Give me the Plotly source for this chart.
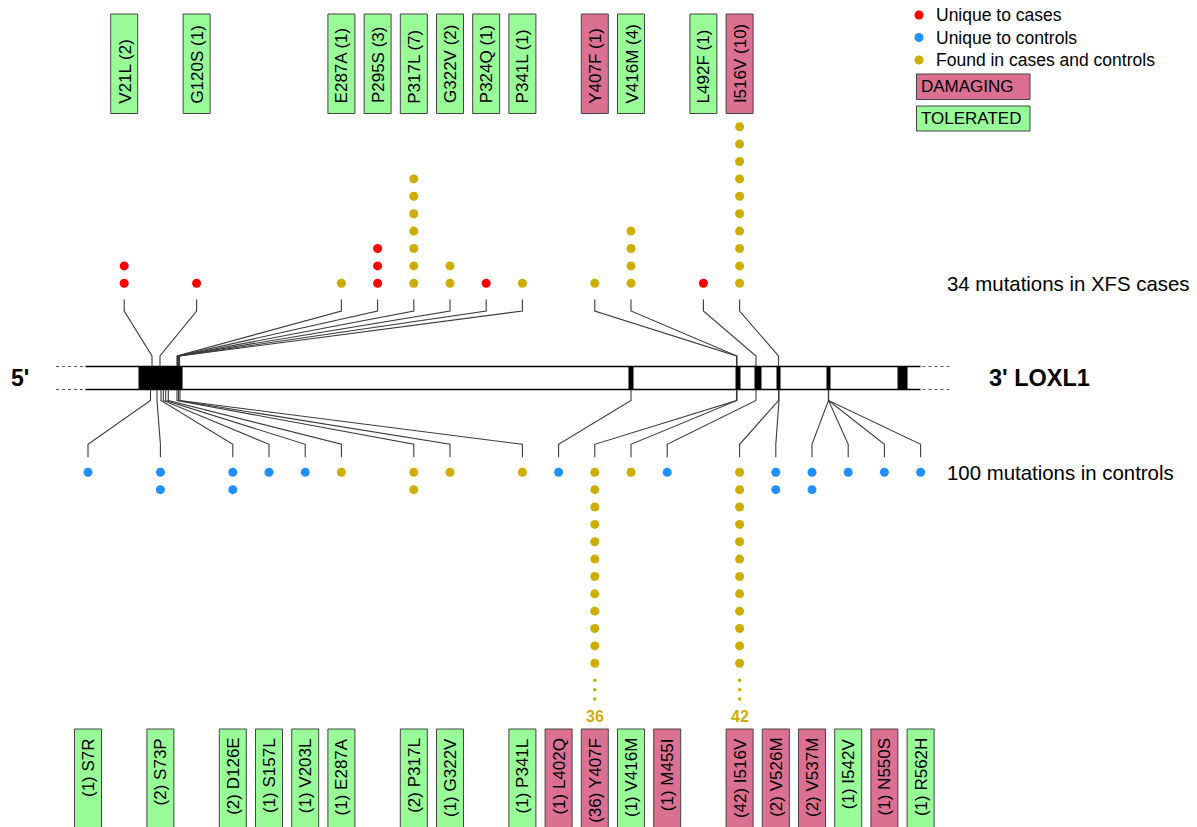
import plotly.graph_objects as go

# ---------------- data ----------------
case_labels = ["V21L", "G120S", "E287A", "P295S", "P317L", "G322V", "P324Q",
               "P341L", "Y407F", "V416M", "L492F", "I516V"]
case_counts = [2, 1, 1, 3, 7, 2, 1, 1, 1, 4, 1, 10]
case_slots = [1, 3, 7, 8, 9, 10, 11, 12, 14, 15, 17, 18]
case_types = ["case", "case", "both", "case", "both", "both", "case",
              "both", "both", "both", "case", "both"]
case_damaging = [False, False, False, False, False, False, False,
                 False, True, False, False, True]
case_gene_pos = [152, 160, 177, 177.5, 178, 178.5, 179, 179.5, 736.5, 737, 756, 778.5]

control_labels = ["S7R", "S73P", "D126E", "S157L", "V203L", "E287A", "P317L",
                  "G322V", "P341L", "L402Q", "Y407F", "V416M", "M455I", "I516V",
                  "V526M", "V537M", "I542V", "N550S", "R562H"]
control_counts = [1, 2, 2, 1, 1, 1, 2, 1, 1, 1, 36, 1, 1, 42, 2, 2, 1, 1, 1]
control_slots = [0, 2, 4, 5, 6, 7, 9, 10, 12, 13, 14, 15, 16, 18, 19, 20, 21, 22, 23]
control_types = ["control", "control", "control", "control", "control", "both",
                 "both", "both", "both", "control", "both", "both", "control",
                 "both", "control", "control", "control", "control", "control"]
control_damaging = [False, False, False, False, False, False, False, False, False,
                    True, True, False, True, True, True, True, False, True, False]
control_gene_pos = [150.5, 157, 161, 163.3, 165.7, 168.3, 177, 178.5, 180, 631,
                    736.5, 737, 756, 778.5, 779, 828.5, 828.5, 828.5, 828.5]

exon_starts = [139, 629, 736, 755, 777, 827, 898]
exon_ends = [182, 633, 740, 761, 780, 830, 907]

legend_labels = ["Unique to cases", "Unique to controls", "Found in cases and controls"]
legend_types = ["case", "control", "both"]

# ---------------- styles / layout constants ----------------
W, H = 1197, 827
FONT = "Liberation Sans, Arial, sans-serif"
COLORS = {"case": "#FF0000", "control": "#1E90FF", "both": "#CDAD00"}
DAMAGING = "#DB7093"
TOLERATED = "#98FB98"
LINE_COL = "#3a3a3a"

SLOT_X0, SLOT_DX = 88.0, 36.2
GENE_X0, GENE_X1 = 85.5, 920.5
GENE_TOP, GENE_BOT = 366.5, 389.5
TOP_DOT_Y, TOP_DOT_DY = 283.3, 17.4
BOT_DOT_Y, BOT_DOT_DY = 472.3, 17.36
MAX_SHOWN = 12
BOX_W = 27
TOP_BOX = (14, 113.5)
BOT_BOX = (729, 829)
DOT_SIZE = 9


def slot_x(s):
    return SLOT_X0 + SLOT_DX * s


fig = go.Figure()
shapes = []
annotations = []

# ---------------- gene body ----------------
for yy in (GENE_TOP, GENE_BOT):
    fig.add_trace(go.Scatter(x=[GENE_X0, GENE_X1], y=[yy, yy], mode="lines",
                             line=dict(color="black", width=1.3), hoverinfo="skip"))
    fig.add_trace(go.Scatter(x=[56, GENE_X0 - 1, None, GENE_X1 + 2, 952],
                             y=[yy, yy, None, yy, yy], mode="lines",
                             line=dict(color="#555", width=1, dash="dot"), hoverinfo="skip"))

for a, b in zip(exon_starts, exon_ends):
    shapes.append(dict(type="rect", xref="x", yref="y", x0=a, x1=b, y0=GENE_TOP, y1=GENE_BOT,
                       fillcolor="black", line=dict(color="black", width=1), layer="above"))

# ---------------- connectors ----------------
lx, ly = [], []
for s, g in zip(case_slots, case_gene_pos):
    sx = slot_x(s)
    lx += [sx, sx, g, g, None]
    ly += [299.5, 311, 356, GENE_TOP, None]
for s, g in zip(control_slots, control_gene_pos):
    sx = slot_x(s)
    lx += [g, g, sx, sx, None]
    ly += [GENE_BOT, 400.5, 444.3, 457.3, None]
fig.add_trace(go.Scatter(x=lx, y=ly, mode="lines", line=dict(color=LINE_COL, width=1.1),
                         hoverinfo="skip"))

# ---------------- dots ----------------
dots = {k: ([], []) for k in COLORS}
ell_x, ell_y = [], []
for s, n, t in zip(case_slots, case_counts, case_types):
    for i in range(min(n, MAX_SHOWN)):
        dots[t][0].append(slot_x(s))
        dots[t][1].append(TOP_DOT_Y - i * TOP_DOT_DY)
for s, n, t in zip(control_slots, control_counts, control_types):
    for i in range(min(n, MAX_SHOWN)):
        dots[t][0].append(slot_x(s))
        dots[t][1].append(BOT_DOT_Y + i * BOT_DOT_DY)
    if n > MAX_SHOWN:
        last = BOT_DOT_Y + (MAX_SHOWN - 1) * BOT_DOT_DY
        for k in range(3):
            ell_x.append(slot_x(s))
            ell_y.append(last + 17 + k * 9.4)
        annotations.append(dict(x=slot_x(s), y=716.5, xref="x", yref="y", text=f"<b>{n}</b>",
                                showarrow=False, font=dict(family=FONT, size=16, color=COLORS["both"]),
                                xanchor="center", yanchor="middle"))

for t, (xs, ys) in dots.items():
    fig.add_trace(go.Scatter(x=xs, y=ys, mode="markers",
                             marker=dict(color=COLORS[t], size=DOT_SIZE, line=dict(width=0)),
                             hoverinfo="skip"))
fig.add_trace(go.Scatter(x=ell_x, y=ell_y, mode="markers",
                         marker=dict(color=COLORS["both"], size=3.5, line=dict(width=0)),
                         hoverinfo="skip"))

# ---------------- label boxes ----------------
for s, lab, n, d in zip(case_slots, case_labels, case_counts, case_damaging):
    sx = slot_x(s)
    shapes.append(dict(type="rect", xref="x", yref="y", x0=sx - BOX_W / 2, x1=sx + BOX_W / 2,
                       y0=TOP_BOX[0], y1=TOP_BOX[1], fillcolor=DAMAGING if d else TOLERATED,
                       line=dict(color="#444", width=1), layer="below"))
    annotations.append(dict(x=sx + 0.5, y=TOP_BOX[1] - 8, xref="x", yref="y", text=f"{lab} ({n})",
                            textangle=-90, showarrow=False, xanchor="center", yanchor="bottom",
                            font=dict(family=FONT, size=17, color="black")))

for s, lab, n, d in zip(control_slots, control_labels, control_counts, control_damaging):
    sx = slot_x(s)
    shapes.append(dict(type="rect", xref="x", yref="y", x0=sx - BOX_W / 2, x1=sx + BOX_W / 2,
                       y0=BOT_BOX[0], y1=BOT_BOX[1], fillcolor=DAMAGING if d else TOLERATED,
                       line=dict(color="#444", width=1), layer="below"))
    annotations.append(dict(x=sx + 0.5, y=BOT_BOX[0] + 7, xref="x", yref="y", text=f"({n}) {lab}",
                            textangle=-90, showarrow=False, xanchor="center", yanchor="top",
                            font=dict(family=FONT, size=17, color="black")))

# ---------------- side texts ----------------
annotations.append(dict(x=9, y=378, xref="x", yref="y", text="<b>5'</b>", showarrow=False,
                        xanchor="left", yanchor="middle", font=dict(family=FONT, size=23, color="black")))
annotations.append(dict(x=987, y=378, xref="x", yref="y", text="<b>3' LOXL1</b>", showarrow=False,
                        xanchor="left", yanchor="middle", font=dict(family=FONT, size=23.5, color="black")))
annotations.append(dict(x=945, y=283.5, xref="x", yref="y", text="34 mutations in XFS cases",
                        showarrow=False, xanchor="left", yanchor="middle",
                        font=dict(family=FONT, size=20.4, color="black")))
annotations.append(dict(x=945, y=472.5, xref="x", yref="y", text="100 mutations in controls",
                        showarrow=False, xanchor="left", yanchor="middle",
                        font=dict(family=FONT, size=20.4, color="black")))

# ---------------- legend ----------------
leg_y = [15, 37.5, 60]
for lab, t, yy in zip(legend_labels, legend_types, leg_y):
    fig.add_trace(go.Scatter(x=[919], y=[yy], mode="markers",
                             marker=dict(color=COLORS[t], size=DOT_SIZE, line=dict(width=0)),
                             hoverinfo="skip"))
    annotations.append(dict(x=934, y=yy, xref="x", yref="y", text=lab, showarrow=False,
                            xanchor="left", yanchor="middle",
                            font=dict(family=FONT, size=17.5, color="black")))
for lab, col, (y0, y1) in zip(["DAMAGING", "TOLERATED"], [DAMAGING, TOLERATED],
                              [(74, 99.5), (106, 131)]):
    shapes.append(dict(type="rect", xref="x", yref="y", x0=916.5, x1=1030, y0=y0, y1=y1,
                       fillcolor=col, line=dict(color="#444", width=1), layer="below"))
    annotations.append(dict(x=919, y=(y0 + y1) / 2, xref="x", yref="y", text=lab, showarrow=False,
                            xanchor="left", yanchor="middle",
                            font=dict(family=FONT, size=17, color="black")))

fig.update_layout(
    width=W, height=H,
    margin=dict(l=0, r=0, t=0, b=0),
    paper_bgcolor="white", plot_bgcolor="white",
    showlegend=False,
    xaxis=dict(range=[0, W], visible=False, fixedrange=True),
    yaxis=dict(range=[H, 0], visible=False, fixedrange=True),
    shapes=shapes,
    annotations=annotations,
)

fig.write_html("out.html",
               config={"displayModeBar": False},
               post_script="document.body.style.margin='0';document.body.style.overflow='hidden';")
